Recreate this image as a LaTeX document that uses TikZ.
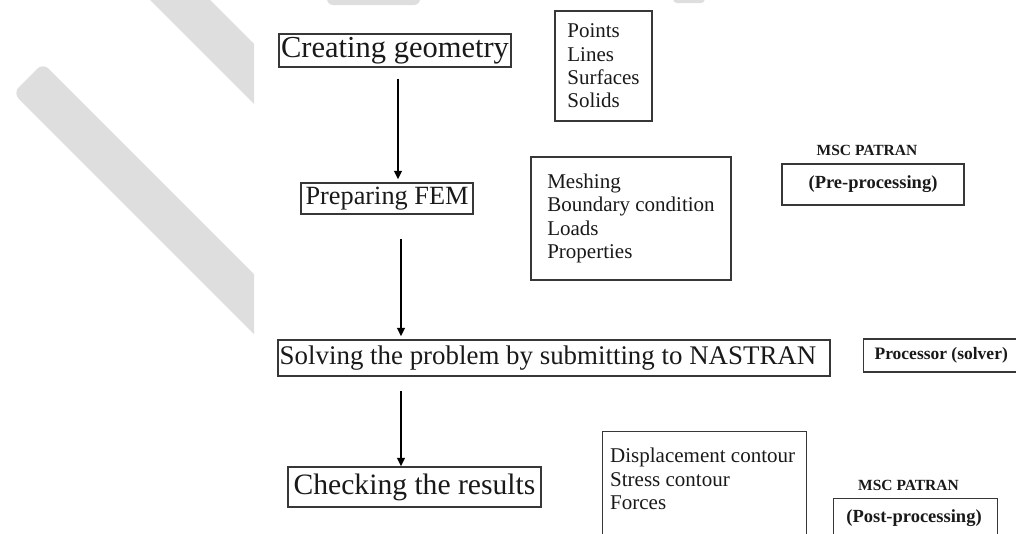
\documentclass[tikz,border=0pt]{standalone}
\usepackage{fontspec}
\setmainfont{Liberation Serif}
\usetikzlibrary{arrows.meta}
\definecolor{wmgray}{RGB}{222,222,222}
\definecolor{boxc}{RGB}{55,55,55}
\definecolor{txt}{RGB}{25,25,25}
\begin{document}
\begin{tikzpicture}[x=1pt,y=-1pt,
  wm/.style={fill=wmgray},
  mainbox/.style={draw=boxc, line width=1.1pt, inner sep=0pt, text=txt},
  listbox/.style={draw=boxc, line width=1.1pt, inner sep=0pt, align=left, text=txt, font=\fontsize{21}{23.3}\selectfont},
  listtext/.style={inner sep=0pt, align=left, text=txt, font=\fontsize{21}{23.3}\selectfont},
  frame/.style={draw=boxc, line width=1.1pt, inner sep=0pt},
  arr/.style={line width=2.3pt, draw=black, -{Triangle[width=7.5pt,length=8.5pt]}},
  boldlbl/.style={font=\bfseries\fontsize{15.5}{17}\selectfont, text=txt, inner sep=0pt},
  boldtxt/.style={font=\bfseries\fontsize{18.5}{21}\selectfont, text=txt},
]
\useasboundingbox (0,0) rectangle (1016,533);
\clip (0,0) rectangle (1016,533);
% watermark pieces
\begin{scope}
  \clip (0,0) rectangle (254,533);
  \fill[wm] (120,-30) -- (180,-30) -- (400,190) -- (340,190) -- cycle;
  \fill[wm, rounded corners=8] (13,93) -- (43,63) -- (420,440) -- (390,470) -- cycle;
\end{scope}
\fill[wm, rounded corners=6] (327,-20) rectangle (420,5);
\fill[wm, rounded corners=4] (673,-20) rectangle (705,3);

% main flow boxes
\node[mainbox, minimum width=232, minimum height=33, font=\fontsize{30.5}{33}\selectfont] (geo) at (395,50.5) {Creating geometry};
\node[mainbox, minimum width=172, minimum height=31, font=\fontsize{26.3}{28}\selectfont] (fem) at (387,198.5) {Preparing FEM};
\node[mainbox, minimum width=552, minimum height=36, font=\fontsize{26.9}{30}\selectfont] (solve) at (554,358) {Solving the problem by submitting to NASTRAN\kern12pt};
\node[mainbox, minimum width=253, minimum height=40, font=\fontsize{29.6}{32}\selectfont] (check) at (414.5,487) {Checking the results};

% arrows
\draw[arr] ([shift={(3,11)}]geo.south) -- ([shift={(11,-3)}]fem.north);
\draw[arr] ([shift={(14,24)}]fem.south) -- ([shift={(-153,-3)}]solve.north);
\draw[arr] ([shift={(-153,14)}]solve.south) -- ([shift={(-13.5,0)}]check.north);

% lists
\node[listbox, minimum width=97, minimum height=110] (geolist) at (603.5,66) {Points\\Lines\\Surfaces\\Solids};
\node[listbox, minimum width=200, minimum height=123] (femlist) at (631,218.5) {Meshing\\Boundary condition\\Loads\\Properties};
\node[frame, minimum width=204, minimum height=130, anchor=north west] (checkbox) at (602,431) {};
\node[listtext, anchor=north west] (checklist) at (610,448) {Displacement contour\\Stress contour\\Forces};

% software labels
\node[boldlbl, anchor=base] (pat1) at (867,155) {MSC PATRAN};
\node[mainbox, boldtxt, minimum width=182, minimum height=41] (pre) at (873,184.5) {(Pre-processing)};
\node[mainbox, boldtxt, anchor=west, minimum height=33, inner xsep=11pt, font=\bfseries\fontsize{17.5}{20}\selectfont] (proc) at (863,355.5) {Processor (solver)\kern20pt};
\node[boldlbl, anchor=base] (pat2) at (908.5,490) {MSC PATRAN};
\node[frame, minimum width=164, minimum height=60, anchor=north west] (postbox) at (833,498) {};
\node[boldtxt, anchor=base, inner sep=0pt] (post) at (914,522) {(Post-processing)};
\end{tikzpicture}
\end{document}
